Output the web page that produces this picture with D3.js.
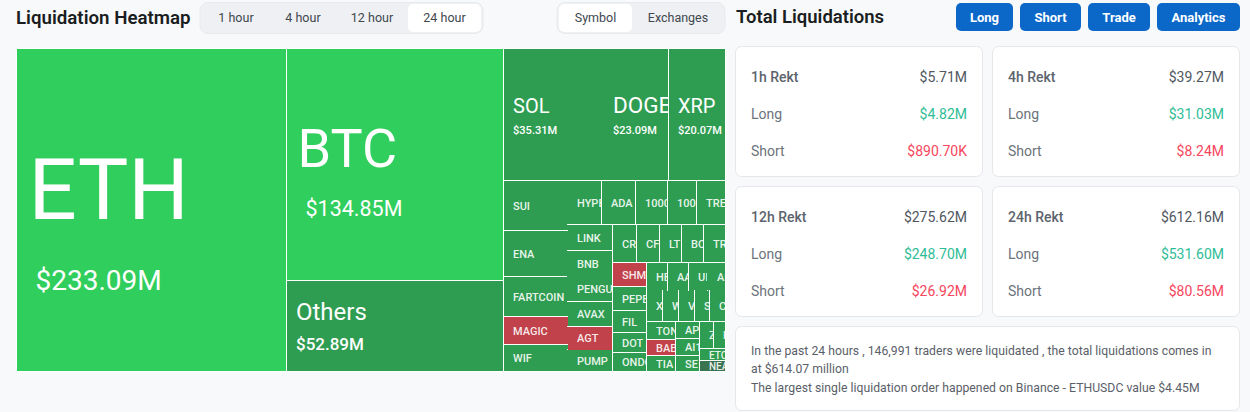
<!DOCTYPE html>
<html>
<head>
<meta charset="utf-8">
<script src="https://cdn.jsdelivr.net/npm/d3@7"></script>
<style>
  html, body { margin: 0; padding: 0; background: #f8f9fa; overflow: hidden; }
  text { font-family: Roboto, sans-serif; }
  .tile-label { fill: #fff; }
</style>
</head>
<body>
<div id="chart"></div>
<script>
// Heatmap data ($M, 24 hour)
var symbols = ["ETH", "BTC", "Others", "SOL", "DOGE", "XRP",
  "SUI", "ENA", "FARTCOIN", "MAGIC", "WIF",
  "HYPE", "ADA", "1000", "1000 ", "TRE",
  "LINK", "BNB", "PENGU", "AVAX", "AGT", "PUMP",
  "CR", "CF", "LT", "BO", "TR",
  "SHM", "PEPE", "FIL", "DOT", "ONDO",
  "HE", "AA", "UI", "AI",
  "X", "W", "V", "S", "C",
  "TON", "BAB", "TIA", "AP", "AI1", "SE",
  "Z", "E", "ETC", "NEA"];
var values = [233.09, 134.85, 52.89, 35.31, 23.09, 20.07,
  8.4, 7.8, 6.9, 4.7, 4.6,
  3.93, 3.92, 3.7, 3.35, 3.34,
  3.15, 3.12, 3.1, 3.0, 2.72, 2.66,
  2.4, 2.38, 2.28, 2.25, 2.22,
  2.19, 2.15, 2.0, 1.83, 1.74,
  1.62, 1.52, 1.48, 1.35,
  1.34, 1.33, 1.33, 1.32, 1.3,
  1.32, 1.25, 1.25, 1.06, 1.06, 1.05,
  0.98, 0.87, 0.85, 0.78];
// long-heavy symbols are green, short-heavy are red
var strongSymbols = ["ETH", "BTC"];
var shortSymbols = ["MAGIC", "AGT", "SHM", "BAB"];
var flatSymbols = ["NEA"];
var valueLabels = { ETH: "$233.09M", BTC: "$134.85M", Others: "$52.89M", SOL: "$35.31M", DOGE: "$23.09M", XRP: "$20.07M" };

// tile borders that don't show in the heatmap
var openEdges = [["SOL", "DOGE"], ["SUI", "HYPE"], ["SUI", "LINK"], ["ENA", "LINK"], ["ENA", "BNB"],
  ["FARTCOIN", "BNB"], ["FARTCOIN", "PENGU"], ["FARTCOIN", "AVAX"], ["MAGIC", "AVAX"], ["MAGIC", "AGT"],
  ["WIF", "AGT"], ["WIF", "PUMP"], ["BNB", "PENGU"], ["AGT", "PUMP"], ["UI", "AI"],
  ["HE", "X"], ["HE", "W"], ["AA", "W"], ["AA", "V"], ["UI", "V"], ["UI", "S"], ["AI", "S"], ["AI", "C"]];

// Panel data
var periods = ["1h Rekt", "4h Rekt", "12h Rekt", "24h Rekt"];
var totals = ["$5.71M", "$39.27M", "$275.62M", "$612.16M"];
var longs = ["$4.82M", "$31.03M", "$248.70M", "$531.60M"];
var shorts = ["$890.70K", "$8.24M", "$26.92M", "$80.56M"];
var timeTabs = ["1 hour", "4 hour", "12 hour", "24 hour"];
var groupTabs = ["Symbol", "Exchanges"];
var buttons = ["Long", "Short", "Trade", "Analytics"];
var noteLines = ["In the past 24 hours , 146,991 traders were liquidated , the total liquidations comes in",
  "at $614.07 million",
  "The largest single liquidation order happened on Binance - ETHUSDC value $4.45M"];

var svg = d3.select("#chart")
  .append("svg")
  .attr("width", 1250)
  .attr("height", 412)
  .style("display", "block");

function addText(parent, str, x, y, size, weight, color, anchor) {
  return parent.append("text")
    .attr("x", x)
    .attr("y", y)
    .attr("font-size", size)
    .attr("font-weight", weight)
    .attr("fill", color)
    .attr("text-anchor", anchor || "start")
    .text(str);
}

// Treemap
var chartGroup = svg.append("g").attr("transform", "translate(16.5, 48.5)");

var root = d3.hierarchy({ children: symbols.map(function(s, i) { return { name: s, value: values[i] }; }) })
  .sum(function(d) { return d.value; });

d3.treemap().tile(d3.treemapSquarify).size([709, 323]).round(true)(root);

function tileColor(name) {
  if (strongSymbols.indexOf(name) >= 0) return "#30ce5c";
  if (shortSymbols.indexOf(name) >= 0) return "#c1424a";
  if (flatSymbols.indexOf(name) >= 0) return "#3a7350";
  return "#2f9d51";
}

// label sizes go by tile value, small tiles all get the same one
var nameSize = d3.scaleLinear().domain([9, 20.07, 23.09, 35.31, 52.89, 134.85, 233.09]).range([11, 20, 22.5, 20, 24, 54, 85]);
var valueSize = d3.scaleLinear().domain([20, 35, 52.89, 134.85, 233.09]).range([11, 11, 17, 21.5, 28]);

var leaves = root.leaves();
var tile = chartGroup.selectAll("g.tile")
  .data(leaves)
  .enter()
  .append("g")
  .attr("class", "tile")
  .attr("transform", function(d) { return "translate(" + d.x0 + "," + d.y0 + ")"; });

tile.append("rect")
  .attr("width", function(d) { return d.x1 - d.x0; })
  .attr("height", function(d) { return d.y1 - d.y0; })
  .attr("fill", function(d) { return tileColor(d.data.name); })
  .attr("stroke", "#fff")
  .attr("stroke-width", 1);

tile.append("clipPath")
  .attr("id", function(d, i) { return "clip" + i; })
  .append("rect")
  .attr("width", function(d) { return d.x1 - d.x0; })
  .attr("height", function(d) { return d.y1 - d.y0; });

var labels = tile.append("g")
  .attr("clip-path", function(d, i) { return "url(#clip" + i + ")"; });

labels.each(function(d) {
  var g = d3.select(this);
  var h = d.y1 - d.y0;
  var big = valueLabels[d.data.name];
  var fs = d.value < 9 ? (h < 14 ? 10 : 11) : nameSize(d.value);
  var pad = big ? (d.value > 200 ? 12 : (d.value > 100 ? 11 : 9.5)) : 9.5;
  if (!big) {
    g.append("text").attr("class", "tile-label")
      .attr("x", pad).attr("y", h / 2 + 4)
      .attr("font-size", fs).attr("font-weight", 500)
      .attr("fill-opacity", 0.9)
      .text(d.data.name.trim());
    return;
  }
  var vs = valueSize(d.value);
  var nameY = h / 2 + (d.value > 200 ? 9 : (d.value > 100 ? 2.5 : (d.value > 40 ? -6 : -1.5)));
  var valueY = nameY + (d.value > 200 ? 71 : (d.value > 100 ? 49 : (d.value > 40 ? 30 : 21)));
  g.append("text").attr("class", "tile-label")
    .attr("x", pad).attr("y", nameY)
    .attr("font-size", fs).attr("font-weight", 400)
    .text(d.data.name);
  g.append("text").attr("class", "tile-label")
    .attr("x", pad + (d.value > 200 ? 7 : (d.value > 100 ? 8 : 0))).attr("y", valueY)
    .attr("font-size", vs).attr("font-weight", d.value > 100 ? 400 : 500)
    .text(big);
});

// paint over the borders that are not visible
function leaf(name) {
  return leaves.filter(function(l) { return l.data.name === name; })[0];
}
openEdges.forEach(function(pair) {
  var a = leaf(pair[0]), b = leaf(pair[1]);
  var line = chartGroup.append("line")
    .attr("stroke", tileColor(pair[0]))
    .attr("stroke-width", 1);
  if (Math.abs(a.x1 - b.x0) < 1) {
    line.attr("x1", a.x1).attr("x2", a.x1)
      .attr("y1", Math.max(a.y0, b.y0) + 0.5).attr("y2", Math.min(a.y1, b.y1) - 0.5);
  } else {
    line.attr("y1", a.y1).attr("y2", a.y1)
      .attr("x1", Math.max(a.x0, b.x0) + 0.5).attr("x2", Math.min(a.x1, b.x1) - 0.5);
  }
});

// Header left
addText(svg, "Liquidation Heatmap", 16, 24, 18.7, 600, "#1a1d21");

function tabGroup(names, x, w, tabW, activeIdx) {
  svg.append("rect").attr("x", x).attr("y", 2.5).attr("width", w).attr("height", 31).attr("rx", 8)
    .attr("fill", "#eef0f3").attr("stroke", "#e8eaed");
  var cx = x + 2;
  names.forEach(function(n, i) {
    var tw = tabW[i];
    if (i === activeIdx) {
      svg.append("rect").attr("x", cx).attr("y", 4).attr("width", tw).attr("height", 28).attr("rx", 5).attr("fill", "#fff");
    }
    addText(svg, n, cx + tw / 2, 22, 12.5, 400, "#41474e", "middle");
    cx += tw;
  });
}
tabGroup(timeTabs, 200, 283, [68, 66, 72, 73], 3);
tabGroup(groupTabs, 557, 168, [73, 92], 0);

// Header right
addText(svg, "Total Liquidations", 736, 23, 18.5, 600, "#1a1d21");

var buttonX = [956, 1020, 1088, 1157];
var buttonW = [57, 61, 62, 83];
buttons.forEach(function(b, i) {
  svg.append("rect").attr("x", buttonX[i]).attr("y", 3).attr("width", buttonW[i]).attr("height", 28).attr("rx", 5).attr("fill", "#0b68c9");
  addText(svg, b, buttonX[i] + buttonW[i] / 2, 21.5, 13, 700, "#fff", "middle");
});

// Cards
function card(x, y, w, h) {
  svg.append("rect").attr("x", x).attr("y", y).attr("width", w).attr("height", h).attr("rx", 6)
    .attr("fill", "#fff").attr("stroke", "#e5e7ea");
}
var cardX = [735.5, 992.5, 735.5, 992.5];
var cardY = [46.5, 46.5, 186.5, 186.5];
periods.forEach(function(p, i) {
  var x = cardX[i], y = cardY[i];
  card(x, y, 247, 130);
  addText(svg, p, x + 15.5, y + 35.5, 14, 500, "#5c646d");
  addText(svg, totals[i], x + 231.5, y + 35.5, 14, 400, "#50575f", "end");
  addText(svg, "Long", x + 15.5, y + 72.5, 14, 400, "#6b737b");
  addText(svg, longs[i], x + 231.5, y + 72.5, 14, 400, "#2ebd96", "end");
  addText(svg, "Short", x + 15.5, y + 109.5, 14, 400, "#6b737b");
  addText(svg, shorts[i], x + 231.5, y + 109.5, 14, 400, "#f6465d", "end");
});

card(735.5, 326.5, 504, 84);
var noteY = [355, 373, 392];
noteLines.forEach(function(l, i) {
  addText(svg, l, 751, noteY[i], 12.2, 400, "#5a6068").attr("letter-spacing", 0.03);
});
</script>
</body>
</html>
